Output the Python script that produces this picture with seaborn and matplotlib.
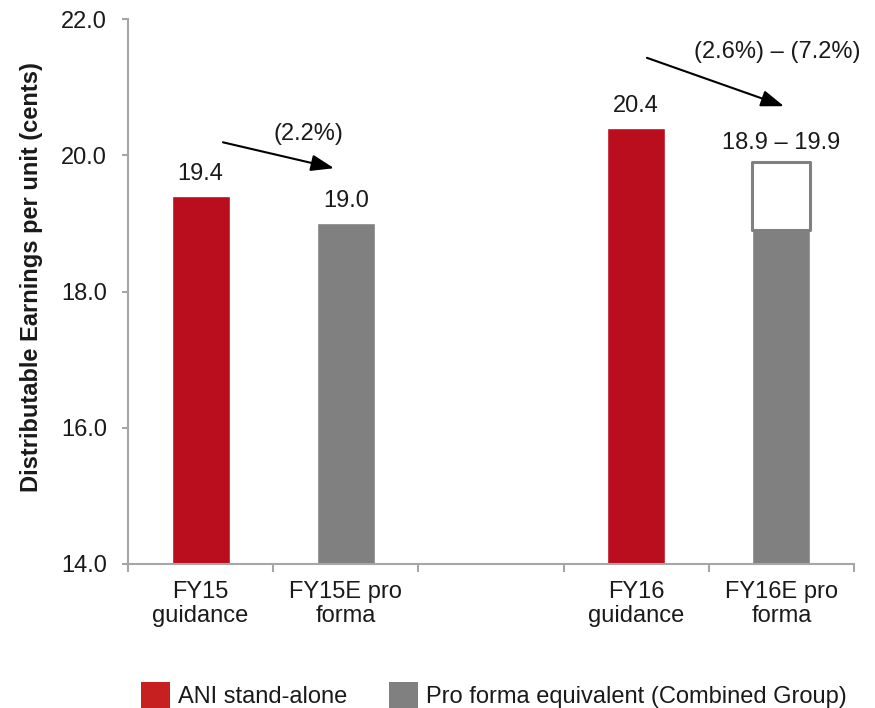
import numpy as np
import pandas as pd
import matplotlib
matplotlib.use("Agg")
import matplotlib.pyplot as plt
from matplotlib.patches import Patch
from matplotlib.ticker import FixedLocator, FormatStrFormatter
import seaborn as sns

# ---- data ----
categories = ["FY15\nguidance", "FY15E pro\nforma", "", "FY16\nguidance", "FY16E pro\nforma"]
bar_labels = ["FY15\nguidance", "FY15E pro\nforma", "FY16\nguidance", "FY16E pro\nforma"]
bar_values = [19.4, 19.0, 20.4, 18.9]
bar_series = ["ANI stand-alone", "Pro forma equivalent (Combined Group)",
              "ANI stand-alone", "Pro forma equivalent (Combined Group)"]
value_texts = ["19.4", "19.0", "20.4", "18.9 \u2013 19.9"]
range_category = "FY16E pro\nforma"
range_low, range_high = 18.9, 19.9
change_texts = ["(2.2%)", "(2.6%) \u2013 (7.2%)"]
y_ticks = [14.0, 16.0, 18.0, 20.0, 22.0]
series_names = ["ANI stand-alone", "Pro forma equivalent (Combined Group)"]

RED = "#BA0D1D"
GREY = "#808080"
AXIS_GREY = "#A6A6A6"
TEXT = "#1A1A1A"

sns.set_style("white")
plt.rcParams["font.family"] = ["Liberation Sans", "DejaVu Sans"]

df = pd.DataFrame({"label": bar_labels, "value": bar_values, "series": bar_series})

fig = plt.figure(figsize=(8.75, 7.08), dpi=100)
ax = fig.add_axes([128 / 875, 1 - 564 / 708, 726 / 875, 545 / 708])

sns.barplot(data=df, x="label", y="value", hue="series", order=categories,
            hue_order=series_names, palette=[RED, GREY], dodge=False,
            width=0.4, errorbar=None, legend=False, saturation=1, ax=ax)

# outlined range box on top of the combined-group FY16 bar
xpos = categories.index(range_category)
ax.bar(xpos, range_high - range_low, bottom=range_low, width=0.4,
       facecolor="white", edgecolor=GREY, linewidth=2.2, joinstyle="round", zorder=3)

# axes styling
ax.set_ylim(y_ticks[0], y_ticks[-1])
ax.set_xlim(-0.5, len(categories) - 0.5)
ax.yaxis.set_major_locator(FixedLocator(y_ticks))
ax.yaxis.set_major_formatter(FormatStrFormatter("%.1f"))
for side in ["top", "right"]:
    ax.spines[side].set_visible(False)
for side in ["left", "bottom"]:
    ax.spines[side].set_color(AXIS_GREY)
    ax.spines[side].set_linewidth(1.5)

ax.tick_params(axis="y", which="major", length=4.5, width=1.5, color=AXIS_GREY,
               labelsize=17, labelcolor=TEXT, pad=10.5, left=True)
ax.set_xticks(range(len(categories)))
ax.set_xticklabels(categories, linespacing=1.1)
ax.set_xticks(np.arange(-0.5, len(categories), 1.0), minor=True)
ax.tick_params(axis="x", which="major", length=0, labelsize=17, labelcolor=TEXT, pad=12.5)
ax.tick_params(axis="x", which="minor", length=6, width=1.5, color=AXIS_GREY, bottom=True)
ax.set_xlabel("")
ax.set_ylabel("Distributable Earnings per unit (cents)", fontsize=17,
              fontweight="bold", color=TEXT)
ax.yaxis.set_label_coords(-0.117, 0.526)

# value labels above each bar
tops = dict(zip(bar_labels, bar_values))
tops[range_category] = range_high
for lab, txt in zip(bar_labels, value_texts):
    off = 13 if lab == range_category else 16
    ax.annotate(txt, xy=(categories.index(lab), tops[lab]), xytext=(0, off),
                textcoords="offset pixels", ha="center", va="baseline",
                fontsize=17, color=TEXT)

# change arrows with percentage notes
arrow_kw = dict(arrowstyle="-|>,head_length=1.4,head_width=0.5",
                color="black", lw=1.5, mutation_scale=10, shrinkA=0, shrinkB=0)
ax.annotate("", xy=(0.919, 19.81), xytext=(0.154, 20.19), arrowprops=arrow_kw)
ax.annotate("", xy=(4.018, 20.72), xytext=(3.074, 21.43), arrowprops=arrow_kw,
            annotation_clip=False)
ax.text(0.743, 20.22, change_texts[0], ha="center", va="baseline", fontsize=17, color=TEXT)
ax.text(3.973, 21.43, change_texts[1], ha="center", va="baseline", fontsize=17,
        color=TEXT, clip_on=False)

# legend
handles = [Patch(facecolor="#C62021", edgecolor="none"),
           Patch(facecolor=GREY, edgecolor="none")]
fig.legend(handles, series_names, loc="lower left", bbox_to_anchor=(141 / 875, 0.0),
           ncol=2, frameon=False, fontsize=17, handlelength=1.23, handleheight=1.3,
           handletextpad=0.35, columnspacing=1.75, borderpad=0, borderaxespad=0,
           labelcolor=TEXT)

fig.savefig("out.png", dpi=100)
